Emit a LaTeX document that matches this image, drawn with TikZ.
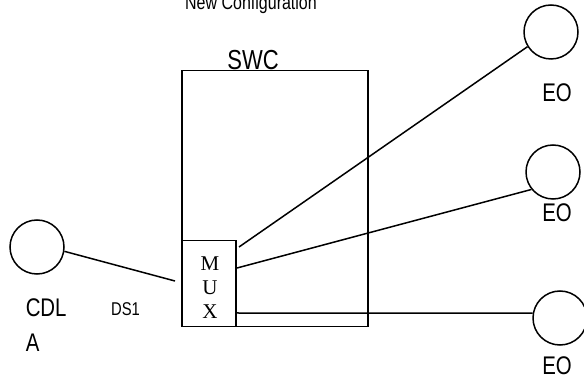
\documentclass[tikz,border=0pt]{standalone}
\usepackage{fontspec}
\setmainfont{Liberation Sans}
\newfontfamily\nsans[FakeStretch=0.8]{Liberation Sans}
\newfontfamily\muxserif{Liberation Serif}
\begin{document}
\begin{tikzpicture}[x=1pt,y=-1pt,line width=1.5pt,
  circ/.style={draw,circle,minimum size=54pt,inner sep=0pt},
  boxn/.style={draw,rectangle,anchor=north west,inner sep=0pt},
  lbl/.style={font=\nsans\fontsize{25.5}{35.5}\selectfont,inner sep=0pt},
  small/.style={font=\nsans\fontsize{18.5}{20}\selectfont,inner sep=0pt}]
\useasboundingbox (0,0) rectangle (584,379);
% boxes
\node[boxn,minimum width=186pt,minimum height=256pt] (swc) at (181,70) {};
\node[boxn,minimum width=54pt,minimum height=86pt,fill=white] (mux) at (181,240) {};
\begin{scope}
\clip (mux.north west) rectangle (mux.south east);
\node[font=\muxserif\fontsize{21}{24}\selectfont,align=center,inner sep=0pt,anchor=base] (muxt) at (210,319) {M\\U\\X};
\end{scope}
% circles
\node[circ] (cdla) at (37,247) {};
\node[circ] (eo1) at (551,32) {};
\node[circ] (eo2) at (553,172) {};
\node[circ] (eo3) at (560,318) {};
% connector ends
\coordinate (m1) at (239,247);
\coordinate (m2) at (237,268);
\coordinate (m3) at (237,313);
\coordinate (m0) at (175,281);
\draw (m1) -- (eo1.212);
\draw (m2) -- (eo2.219);
\draw (m3) -- (eo3.170);
\draw (cdla.-9) -- (m0);
% labels
\node[lbl,anchor=base] (t1) at (557,101.5) {EO};
\node[lbl,anchor=base] (t2) at (557,221.5) {EO};
\node[lbl,anchor=base] (t3) at (557,374.5) {EO};
\node[lbl,anchor=base west,align=left] (cdl) at (25,352) {CDL\\A};
\node[small,anchor=base] (ds1) at (125.5,316) {DS1};
\node[font=\nsans\fontsize{27.5}{30}\selectfont,inner sep=0pt,anchor=base] (swct) at (253,70) {SWC};
\node[font=\nsans\fontsize{20}{24}\selectfont,inner sep=0pt,anchor=base] (title) at (251,10) {New Configuration};
\end{tikzpicture}
\end{document}
